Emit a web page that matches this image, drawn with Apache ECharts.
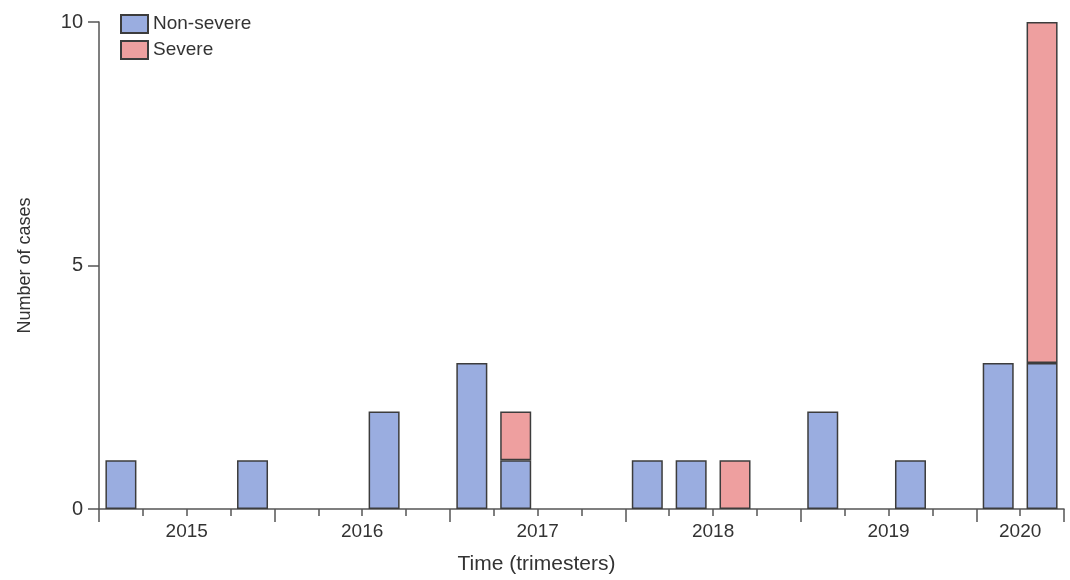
<!DOCTYPE html>
<html>
<head>
<meta charset="utf-8">
<script src="https://cdn.jsdelivr.net/npm/echarts@6/dist/echarts.min.js"></script>
<style>
html,body{margin:0;padding:0;background:#fff;}
#chart{width:1070px;height:580px;}
</style>
</head>
<body>
<div id="chart"></div>
<script>
// Trimester (quarter-like) slots from 2015 to mid-2020
const periods = ['2015-1','2015-2','2015-3','2015-4','2016-1','2016-2','2016-3','2016-4','2017-1','2017-2','2017-3','2017-4','2018-1','2018-2','2018-3','2018-4','2019-1','2019-2','2019-3','2019-4','2020-1','2020-2'];
const nonSevere = [1,null,null,1,null,null,2,null,3,1,null,null,1,1,null,null,2,null,1,null,3,3];
const severe    = [null,null,null,null,null,null,null,null,null,1,null,null,null,null,1,null,null,null,null,null,null,7];
const yearLabels = ['2015','2016','2017','2018','2019','2020'];
const yearLabelPos = [2,6,10,14,18,21];

const FONT = 'Liberation Sans';
const TXT = '#333';
const AX = '#555';

const chart = echarts.init(document.getElementById('chart'), null, {renderer:'canvas'});
chart.setOption({
  animation:false,
  backgroundColor:'#fff',
  textStyle:{fontFamily:FONT},
  grid:{left:99, right:6, top:22, bottom:70, containLabel:false},
  legend:{
    left:120, top:14, orient:'vertical', icon:'rect',
    itemWidth:27, itemHeight:18, itemGap:6, padding:0,
    textStyle:{fontSize:19, color:TXT, fontFamily:FONT},
    data:['Non-severe','Severe']
  },
  xAxis:[
    {
      type:'category', data:periods, position:'bottom',
      boundaryGap:true,
      axisLine:{show:true, lineStyle:{color:AX, width:1.5}},
      axisTick:{show:true, length:7, interval:0, lineStyle:{color:AX, width:1.5}},
      axisLabel:{show:false},
      splitLine:{show:false},
      name:'Time (trimesters)', nameLocation:'middle', nameGap:45,
      nameTextStyle:{fontSize:21, color:TXT, fontFamily:FONT, padding:[0,90,0,0]}
    },
    {
      type:'value', min:0, max:22, interval:4, position:'bottom',
      axisLine:{show:false},
      axisTick:{show:true, length:13, lineStyle:{color:AX, width:1.5}},
      axisLabel:{show:false},
      splitLine:{show:false}
    },
    {
      type:'value', min:0, max:22, interval:1, position:'bottom',
      axisLine:{show:false},
      axisTick:{show:false},
      splitLine:{show:false},
      axisLabel:{
        show:true, margin:13, fontSize:19, color:TXT, fontFamily:FONT,
        hideOverlap:false,
        formatter:function(v){ const i = yearLabelPos.indexOf(v); return i >= 0 ? yearLabels[i] : ''; }
      }
    }
  ],
  yAxis:{
    type:'value', min:0, max:10, interval:5,
    axisLine:{show:true, lineStyle:{color:AX, width:1.5}},
    axisTick:{show:true, length:11, lineStyle:{color:AX, width:1.5}},
    axisLabel:{fontSize:20, color:TXT, margin:16, fontFamily:FONT},
    splitLine:{show:false},
    name:'Number of cases', nameLocation:'middle', nameGap:65,
    nameTextStyle:{fontSize:18, color:TXT, fontFamily:FONT}
  },
  series:[
    {
      name:'Non-severe', type:'bar', stack:'cases', xAxisIndex:0, barWidth:31,
      data:nonSevere,
      itemStyle:{color:'#9aade0', borderColor:'#3c3c3c', borderWidth:1.5}
    },
    {
      name:'Severe', type:'bar', stack:'cases', xAxisIndex:0, barWidth:31,
      data:severe,
      itemStyle:{color:'#ee9f9f', borderColor:'#3c3c3c', borderWidth:1.5}
    }
  ]
});
</script>
</body>
</html>
